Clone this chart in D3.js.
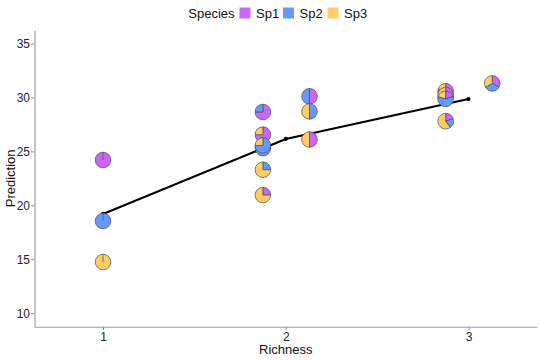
<!DOCTYPE html>
<html><head><meta charset="utf-8">
<script src="https://cdn.jsdelivr.net/npm/d3@7"></script>
<style>body{margin:0;background:#fff} text{font-family:"Liberation Sans",Arial,sans-serif}</style>
</head><body><svg id="c" width="541" height="360"></svg>
<script>
// ---- data ----
const species = ["Sp1","Sp2","Sp3"];
const speciesColors = ["#CC66FF","#6699FF","#FFCC66"];
const richness   = [1, 1, 1, 1.875, 1.875, 1.875, 1.875, 1.875, 1.875, 2.13, 2.13, 2.13, 2.875, 2.875, 2.875, 2.875, 3.13];
const prediction = [24.2, 18.55, 14.75, 28.65, 26.55, 25.3, 25.55, 23.3, 20.95, 30.1, 28.7, 26.1, 30.57, 30.2, 29.86, 27.8, 31.3];
const sp1 = [1, 0, 0, 0.75, 0.75, 0.25, 0,    0,    0.25, 0.5, 0,   0.5, 0.6, 0.4, 0.2, 0.2, 0.3334];
const sp2 = [0, 1, 0, 0.25, 0,    0.75, 0.75, 0.25, 0,    0.5, 0.5, 0,   0.2, 0.2, 0.6, 0.2, 0.3333];
const sp3 = [0, 0, 1, 0,    0.25, 0,    0.25, 0.75, 0.75, 0,   0.5, 0.5, 0.2, 0.4, 0.2, 0.6, 0.3333];
const lineRichness   = [1, 2, 3];
const linePrediction = [19.2, 26.15, 29.85];
const xTicks = [1, 2, 3];
const yTicks = [10, 15, 20, 25, 30, 35];

// ---- layout ----
const svg = d3.select("#c");
const P = {left: 34.5, right: 537, top: 30, bottom: 326.7};
const x = d3.scaleLinear().domain([0.625, 3.375]).range([P.left, P.right]);
const y = d3.scaleLinear().domain([8.75, 36.25]).range([P.bottom, P.top]);
const axisCol = "#9a9a9a", txtCol = "#262626";

// axes
const gx = svg.append("g").attr("transform", `translate(0,${P.bottom})`)
  .call(d3.axisBottom(x).tickValues(xTicks).tickFormat(d3.format("d")).tickSize(3.5).tickSizeOuter(0).tickPadding(2));
const gy = svg.append("g").attr("transform", `translate(${P.left},0)`)
  .call(d3.axisLeft(y).tickValues(yTicks).tickFormat(d3.format("d")).tickSize(3.5).tickSizeOuter(0).tickPadding(1));
[gx, gy].forEach(g => {
  g.select(".domain").attr("stroke", axisCol).attr("stroke-width", 1.1);
  g.selectAll(".tick line").attr("stroke", axisCol).attr("stroke-width", 1.1);
  g.selectAll(".tick text").attr("fill", txtCol).style("font-size", "12px")
    .style("font-family", '"Liberation Sans",Arial,sans-serif');
});

// titles
svg.append("text").attr("x", (P.left + P.right) / 2).attr("y", 354.3)
  .attr("text-anchor", "middle").style("font-size", "13px").attr("fill", "#111").text("Richness");
svg.append("text").attr("transform", `translate(15,${(P.top + P.bottom) / 2}) rotate(-90)`)
  .attr("text-anchor", "middle").style("font-size", "13px").attr("fill", "#111").text("Prediction");

// legend
const lg = svg.append("g");
lg.append("text").attr("x", 188.3).attr("y", 18.3).style("font-size", "13px").attr("fill", "#111").text("Species");
const keyX = [239.5, 283, 327.5];
species.forEach((s, i) => {
  lg.append("rect").attr("x", keyX[i]).attr("y", 7.5).attr("width", 11).attr("height", 11).attr("fill", speciesColors[i]);
  lg.append("text").attr("x", keyX[i] + 16.5).attr("y", 18.3).style("font-size", "13px").attr("fill", "#111").text(s);
});

// mean prediction line
const lineData = lineRichness.map((r, i) => ({r, p: linePrediction[i]}));
svg.append("path").datum(lineData)
  .attr("d", d3.line().x(d => x(d.r)).y(d => y(d.p)))
  .attr("fill", "none").attr("stroke", "#000").attr("stroke-width", 2.1);
svg.selectAll(".dot").data(lineData).enter().append("circle")
  .attr("cx", d => x(d.r)).attr("cy", d => y(d.p)).attr("r", 2.1).attr("fill", "#000");

// pie glyphs
const R = 7.8;
const pie = d3.pie().sort(null).value(d => d.v);
const arc = d3.arc().innerRadius(0).outerRadius(R);
richness.forEach((r, i) => {
  const vals = [sp1[i], sp2[i], sp3[i]].map((v, k) => ({v, k})).filter(d => d.v > 0);
  const g = svg.append("g").attr("transform", `translate(${x(r)},${y(prediction[i])})`);
  g.selectAll("path").data(pie(vals)).enter().append("path")
    .attr("d", arc).attr("fill", d => speciesColors[d.data.k])
    .attr("stroke", "#4a4a4a").attr("stroke-width", 0.7);
  if (vals.length === 1) {
    g.append("line").attr("x1", 0).attr("y1", 0).attr("x2", 0).attr("y2", -R)
      .attr("stroke", "#4a4a4a").attr("stroke-width", 0.7);
  }
});
</script></body></html>
